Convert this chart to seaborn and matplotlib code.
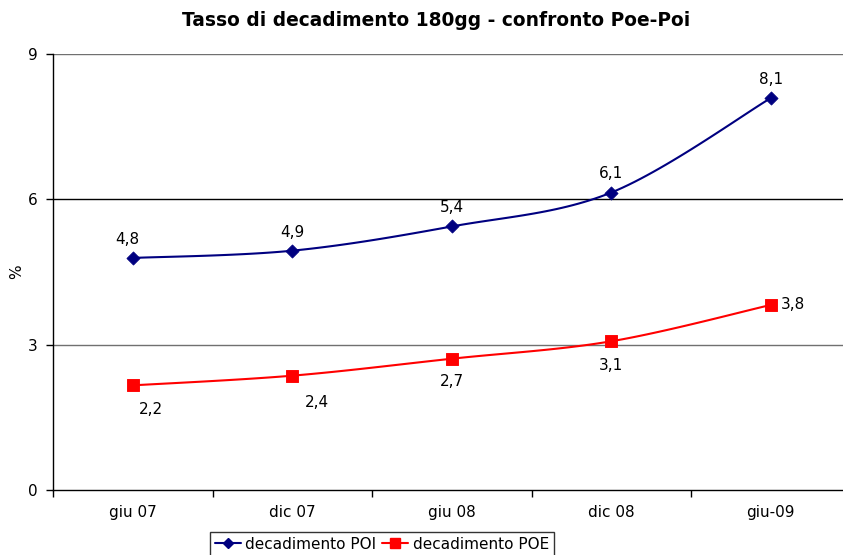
import numpy as np
import seaborn as sns
import matplotlib.pyplot as plt
from matplotlib.lines import Line2D

# Dati
periodi = ['giu 07', 'dic 07', 'giu 08', 'dic 08', 'giu-09']
poi = [4.79, 4.94, 5.44, 6.14, 8.09]
poe = [2.16, 2.36, 2.71, 3.07, 3.82]
y_ticks = [0, 3, 6, 9]

BLU = '#000080'
ROSSO = '#FF0000'


def smooth(y, n=30):
    # linea smussata stile Excel (Catmull-Rom), solo per il disegno
    x = np.arange(len(y), dtype=float)
    p = np.column_stack([x, y])
    p = np.vstack([p[0], p, p[-1]])
    seg = []
    t = np.linspace(0, 1, n)[:, None]
    for i in range(1, len(p) - 2):
        p0, p1, p2, p3 = p[i - 1], p[i], p[i + 1], p[i + 2]
        seg.append(0.5 * (2 * p1 + (-p0 + p2) * t
                          + (2 * p0 - 5 * p1 + 4 * p2 - p3) * t ** 2
                          + (-p0 + 3 * p1 - 3 * p2 + p3) * t ** 3))
    seg = np.vstack(seg)
    return seg[:, 0], seg[:, 1]


sns.set_style('white')
plt.rcParams['font.family'] = ['DejaVu Sans']
for k in ['text.color', 'axes.labelcolor', 'xtick.color', 'ytick.color']:
    plt.rcParams[k] = 'black'

fig = plt.figure(figsize=(8.43, 5.55), dpi=100)
ax = fig.add_axes([53 / 843, 65 / 555, 797.5 / 843, 436 / 555])

# linee smussate
for vals, col in [(poi, BLU), (poe, ROSSO)]:
    xs, ys = smooth(vals)
    ax.plot(xs, ys, color=col, lw=1.5, zorder=3)

# marker
sns.scatterplot(x=range(len(poi)), y=poi, marker='D', s=45, color=BLU,
                edgecolor=BLU, ax=ax, zorder=4, legend=False)
sns.scatterplot(x=range(len(poe)), y=poe, marker='s', s=65, color=ROSSO,
                edgecolor=ROSSO, ax=ax, zorder=4, legend=False)

# etichette dati
fs = 11
off_poi = [(-4, 8), (0, 8), (0, 8), (0, 8), (0, 8)]
for i, v in enumerate(poi):
    ax.annotate(f'{v:.1f}'.replace('.', ','), (i, v), xytext=off_poi[i],
                textcoords='offset points', ha='center', va='bottom',
                fontsize=fs)
off_poe = [(13, -12), (18, -14), (0, -11), (0, -12)]
for i, v in enumerate(poe[:-1]):
    ax.annotate(f'{v:.1f}'.replace('.', ','), (i, v), xytext=off_poe[i],
                textcoords='offset points', ha='center', va='top',
                fontsize=fs)
ax.annotate(f'{poe[-1]:.1f}'.replace('.', ','), (4, poe[-1]), xytext=(7, 0),
            textcoords='offset points', ha='left', va='center', fontsize=fs)

# assi
ax.set_xlim(-0.5, 4.5)
ax.set_ylim(0, 9)
ax.set_yticks(y_ticks)
ax.set_yticklabels([str(v) for v in y_ticks], fontsize=fs)
ax.set_xticks(range(len(periodi)))
ax.set_xticklabels(periodi, fontsize=fs)
ax.set_xticks(np.arange(-0.5, 5, 1), minor=True)
ax.tick_params(axis='x', which='major', length=0, pad=11)
ax.tick_params(axis='x', which='minor', length=5, width=1, color='black',
               direction='out', bottom=True)
ax.tick_params(axis='y', length=5, width=1, color='black', direction='out',
               left=True, pad=6)
for y, c in zip(y_ticks[1:], ['#707070', 'black', '#707070']):
    ax.axhline(y, color=c, lw=1, zorder=1)
ax.spines['top'].set_visible(False)
ax.spines['right'].set_visible(False)
for s in ['left', 'bottom']:
    ax.spines[s].set_color('black')
    ax.spines[s].set_linewidth(1)

ax.set_ylabel('%', fontsize=fs)
ax.yaxis.set_label_coords((24 - 53) / 797.5, 0.5)
ax.set_xlabel('')
fig.text(436 / 843, 1 - 21 / 555, 'Tasso di decadimento 180gg - confronto Poe-Poi',
         ha='center', va='center', fontsize=13.4, fontweight='bold')

handles = [
    Line2D([], [], color=BLU, lw=1.5, marker='D', markersize=5),
    Line2D([], [], color=ROSSO, lw=1.5, marker='s', markersize=7),
]
leg = fig.legend(handles, ['decadimento POI', 'decadimento POE'], ncol=2,
                 loc='upper center', bbox_to_anchor=(382 / 843, 1 - 532 / 555),
                 fontsize=fs, frameon=True, fancybox=False, handlelength=1.7,
                 handletextpad=0.3, columnspacing=0.4, borderpad=0.3,
                 borderaxespad=0)
leg.get_frame().set_edgecolor('black')
leg.get_frame().set_linewidth(1)

fig.savefig('out.png', dpi=100)
